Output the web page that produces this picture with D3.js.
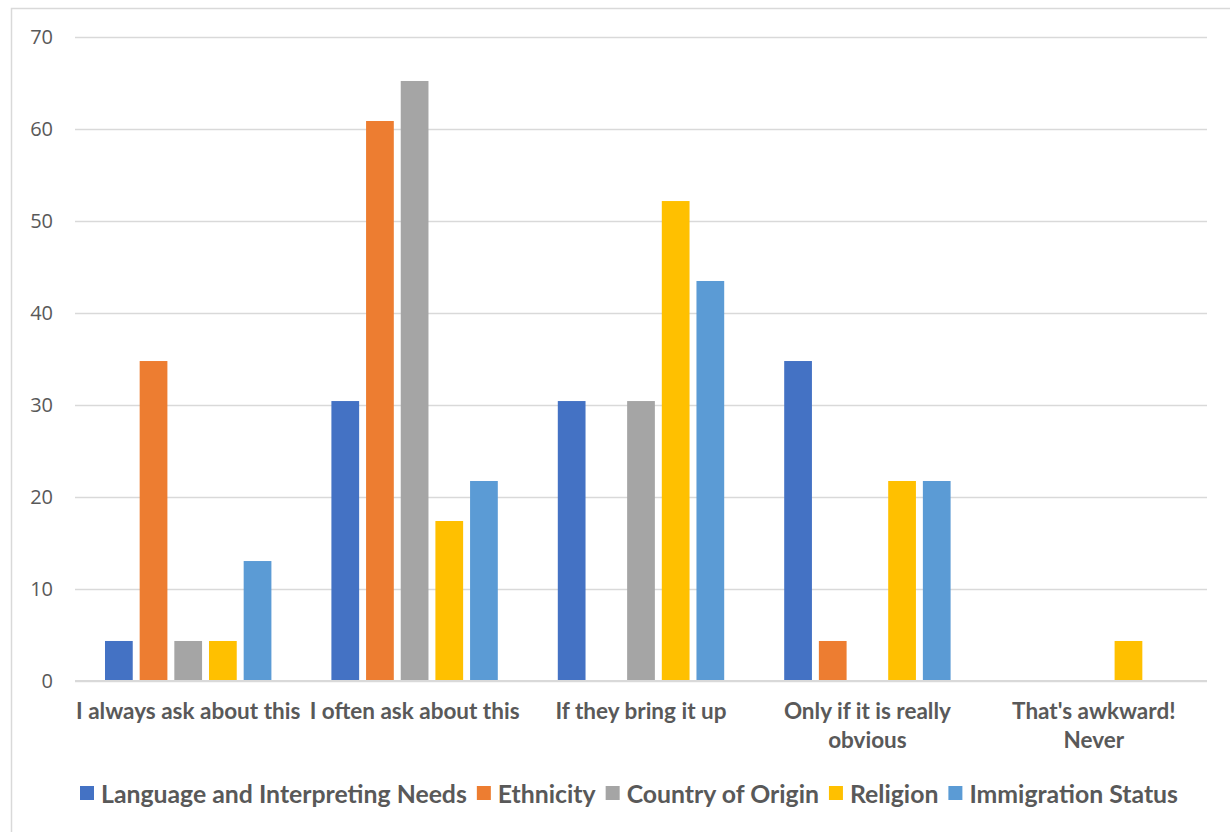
<!DOCTYPE html>
<html>
<head>
<meta charset="utf-8">
<script src="https://cdn.jsdelivr.net/npm/d3@7/dist/d3.min.js"></script>
<style>
  html, body { margin: 0; padding: 0; background: #fff; }
  svg { display: block; }
</style>
</head>
<body>
<svg id="chart" width="1230" height="832"></svg>
<script>
// Survey answers (percent of respondents) by topic
const categories = [
  "I always ask about this",
  "I often ask about this",
  "If they bring it up",
  "Only if it is really obvious",
  "That's awkward! Never"
];
const categoryLines = [
  ["I always ask about this"],
  ["I often ask about this"],
  ["If they bring it up"],
  ["Only if it is really", "obvious"],
  ["That's awkward!", "Never"]
];
const seriesNames = [
  "Language and Interpreting Needs",
  "Ethnicity",
  "Country of Origin",
  "Religion",
  "Immigration Status"
];
const languageValues    = [4.35, 30.43, 30.43, 34.78, 0];
const ethnicityValues   = [34.78, 60.87, 0, 4.35, 0];
const countryValues     = [4.35, 65.22, 30.43, 0, 0];
const religionValues    = [4.35, 17.39, 52.17, 21.74, 4.35];
const immigrationValues = [13.04, 21.74, 43.48, 21.74, 0];
const yTicks = [0, 10, 20, 30, 40, 50, 60, 70];
const colors = ["#4472C4", "#ED7D31", "#A5A5A5", "#FFC000", "#5B9BD5"];

const seriesValues = [languageValues, ethnicityValues, countryValues, religionValues, immigrationValues];

const svg = d3.select("#chart");
const textColor = "#595959";
const gridColor = "#D9D9D9";

// Outer chart frame
svg.append("rect")
  .attr("x", 11.5).attr("y", 8.5)
  .attr("width", 1240).attr("height", 840)
  .attr("fill", "none").attr("stroke", gridColor).attr("stroke-width", 1.5);

const plot = { left: 75, right: 1207, top: 37, bottom: 681 };

const y = d3.scaleLinear().domain([0, 70]).range([plot.bottom, plot.top]);

const x0 = d3.scaleBand()
  .domain(categories)
  .range([plot.left, plot.right])
  .paddingInner(0.265)
  .paddingOuter(0.1325);

const x1 = d3.scaleBand()
  .domain(seriesNames)
  .range([0, x0.bandwidth()])
  .paddingInner(0.2)
  .paddingOuter(0);

const color = d3.scaleOrdinal().domain(seriesNames).range(colors);

// Horizontal gridlines
const yAxis = d3.axisLeft(y).tickValues(yTicks).tickSize(-(plot.right - plot.left)).tickPadding(22);
const gy = svg.append("g")
  .attr("transform", `translate(${plot.left},0)`)
  .call(yAxis);
gy.select(".domain").remove();
gy.selectAll(".tick line").attr("stroke", gridColor).attr("stroke-width", 1.5);
gy.selectAll(".tick text")
  .attr("fill", textColor)
  .style("font-family", "'Open Sans', sans-serif")
  .style("font-size", "20px");

// Bars
const groups = svg.append("g").selectAll("g")
  .data(categories)
  .join("g")
  .attr("transform", d => `translate(${x0(d)},0)`);

groups.selectAll("rect")
  .data((c, ci) => seriesNames.map((s, si) => ({ s, v: seriesValues[si][ci] })))
  .join("rect")
  .attr("x", d => x1(d.s))
  .attr("width", x1.bandwidth())
  .attr("y", d => y(d.v))
  .attr("height", d => y(0) - y(d.v))
  .attr("fill", d => color(d.s));

// Category axis
const xAxis = d3.axisBottom(x0).tickSize(0).tickFormat("");
const gx = svg.append("g")
  .attr("transform", `translate(0,${plot.bottom})`)
  .call(xAxis);
gx.select(".domain")
  .attr("d", `M${plot.left},0H${plot.right}`)
  .attr("stroke", gridColor).attr("stroke-width", 2);

const catLabels = svg.append("g")
  .style("font-family", "Lato, sans-serif")
  .style("font-weight", "bold")
  .style("font-size", "22.5px")
  .attr("fill", textColor)
  .attr("text-anchor", "middle");

categories.forEach((c, i) => {
  const t = catLabels.append("text")
    .attr("x", x0(c) + x0.bandwidth() / 2)
    .attr("y", 719);
  categoryLines[i].forEach((line, li) => {
    t.append("tspan")
      .attr("x", x0(c) + x0.bandwidth() / 2)
      .attr("dy", li === 0 ? 0 : 29)
      .text(line);
  });
});

// Legend
const legend = svg.append("g")
  .style("font-family", "Lato, sans-serif")
  .style("font-weight", "bold")
  .style("font-size", "24.8px")
  .attr("fill", textColor);

const sw = 14, gapSwatch = 7, gapItem = 10;
let cursor = 0;
const items = seriesNames.map(name => {
  const g = legend.append("g");
  g.append("rect").attr("width", sw).attr("height", sw).attr("y", -sw / 2 - 1).attr("fill", color(name));
  const t = g.append("text").attr("x", sw + gapSwatch).attr("dy", "0.35em").text(name);
  const w = sw + gapSwatch + t.node().getComputedTextLength();
  const item = { g, x: cursor };
  cursor += w + gapItem;
  return item;
});
const total = cursor - gapItem;
const legendCenter = 629;
items.forEach(it => {
  it.g.attr("transform", `translate(${legendCenter - total / 2 + it.x},794)`);
});
</script>
</body>
</html>
